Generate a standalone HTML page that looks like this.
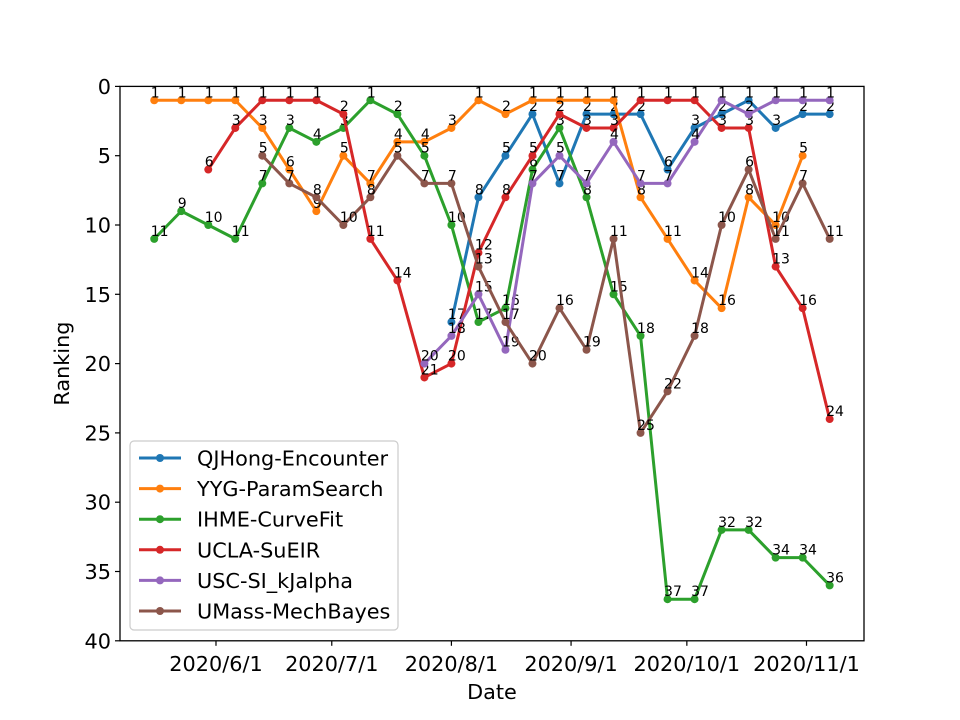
<!DOCTYPE html>
<html><head><meta charset="utf-8"><style>
body{margin:0;background:#fff;}
svg{display:block;font-family:"DejaVu Sans","Liberation Sans",sans-serif;}
</style></head><body>
<svg id="chart" width="960" height="720" viewBox="0 0 960 720">
<rect width="960" height="720" fill="#fff"/>
<g id="plot"></g>
</svg>
<script>
const startDayOffsets = [-16,-9,-2,5,12,19,26,33,40,47,54,61,68,75,82,89,96,103,110,117,124,131,138,145,152,159];
const seriesNames = ["QJHong-Encounter","YYG-ParamSearch","IHME-CurveFit","UCLA-SuEIR","USC-SI_kJalpha","UMass-MechBayes"];
const qjhong = [null,null,null,null,null,null,null,null,null,null,null,17,8,5,2,7,2,2,2,6,3,2,1,3,2,2];
const yyg = [1,1,1,1,3,6,9,5,7,4,4,3,1,2,1,1,1,1,8,11,14,16,8,10,5,null];
const ihme = [11,9,10,11,7,3,4,3,1,2,5,10,17,16,6,3,8,15,18,37,37,32,32,34,34,36];
const ucla = [null,null,6,3,1,1,1,2,11,14,21,20,12,8,5,2,3,3,1,1,1,3,3,13,16,24];
const usc = [null,null,null,null,null,null,null,null,null,null,20,18,15,19,7,5,7,4,7,7,4,1,2,1,1,1];
const umass = [null,null,null,null,5,7,8,10,8,5,7,7,13,17,20,16,19,11,25,22,18,10,6,11,7,11];
const xTickDays = [0,30,61,92,122,153];
const xTickLabels = ["2020/6/1","2020/7/1","2020/8/1","2020/9/1","2020/10/1","2020/11/1"];
const yTicks = [0,5,10,15,20,25,30,35,40];

const colors = ["#1f77b4","#ff7f0e","#2ca02c","#d62728","#9467bd","#8c564b"];
const allSeries = [qjhong,yyg,ihme,ucla,usc,umass];
const L=120,R=864,T=86.4,B=640.8;
const dMin=-24.87,dMax=167.9;
function xs(d){return L+(d-dMin)/(dMax-dMin)*(R-L);}
function ys(v){return T+(v/40)*(B-T);}
const NS="http://www.w3.org/2000/svg";
const g=document.getElementById('plot');
function mk(tag,attrs,parent){const e=document.createElementNS(NS,tag);for(const k in attrs)e.setAttribute(k,attrs[k]);(parent||g).appendChild(e);return e;}

allSeries.forEach((arr,si)=>{
  const sg=mk('g',{});
  
  
  let segs=[],cur=[];
  arr.forEach((v,i)=>{if(v==null){if(cur.length)segs.push(cur);cur=[];}else cur.push([xs(startDayOffsets[i]),ys(v)]);});
  if(cur.length)segs.push(cur);
  segs.forEach(s=>{
    const p=mk('polyline',{points:s.map(q=>q.join(',')).join(' '),fill:'none',stroke:colors[si],'stroke-width':3,'stroke-linejoin':'round','stroke-linecap':'square'},sg);
    
    
  });
  arr.forEach((v,i)=>{
    if(v==null)return;
    const cx=xs(startDayOffsets[i]),cy=ys(v);
    const c=mk('circle',{cx:cx,cy:cy,r:4,fill:colors[si]},sg);
    
    
  });
  arr.forEach((v,i)=>{
    if(v==null)return;
    const cx=xs(startDayOffsets[i]),cy=ys(v);
    const t=mk('text',{x:cx-3.5,y:cy-3,'font-size':14,fill:'#000'},sg);
    t.textContent=v;
    
    
  });
});

const fr=mk('rect',{x:L,y:T,width:R-L,height:B-T,fill:'none',stroke:'#000','stroke-width':1.3});


yTicks.forEach(v=>{
  const y=ys(v);
  const tl=mk('line',{x1:L-5,x2:L,y1:y,y2:y,stroke:'#000','stroke-width':1.2});
  
  
  const t=mk('text',{x:L-9,y:y+7.5,'font-size':20.8,'text-anchor':'end',fill:'#000'});
  t.textContent=v;
  
  
});
xTickDays.forEach((d,i)=>{
  const x=xs(d);
  const tl=mk('line',{x1:x,x2:x,y1:B,y2:B+5,stroke:'#000','stroke-width':1.2});
  
  
  const t=mk('text',{x:x,y:B+30,'font-size':20.8,'text-anchor':'middle',fill:'#000'});
  t.textContent=xTickLabels[i];
  
  
});
const xt=mk('text',{x:(L+R)/2,y:699,'font-size':20.8,'text-anchor':'middle',fill:'#000'});
xt.textContent='Date';


const yt=mk('text',{x:0,y:0,'font-size':20.8,'text-anchor':'middle',fill:'#000',transform:'translate(69,'+((T+B)/2)+') rotate(-90)'});
yt.textContent='Ranking';



const lg=mk('g',{});


const lb=mk('rect',{x:130,y:441,width:268,height:189,rx:4,fill:'#fff','fill-opacity':0.8,stroke:'#ccc','stroke-width':1.2},lg);


seriesNames.forEach((n,i)=>{
  const y=458+i*30.6;
  const eg=mk('g',{},lg);
  
  
  mk('line',{x1:139,x2:181,y1:y,y2:y,stroke:colors[i],'stroke-width':3},eg);
  mk('circle',{cx:160,cy:y,r:4,fill:colors[i]},eg);
  const t=mk('text',{x:197,y:y+7.5,'font-size':20.8,fill:'#000'},eg);
  t.textContent=n;
});
</script>
</body></html>
